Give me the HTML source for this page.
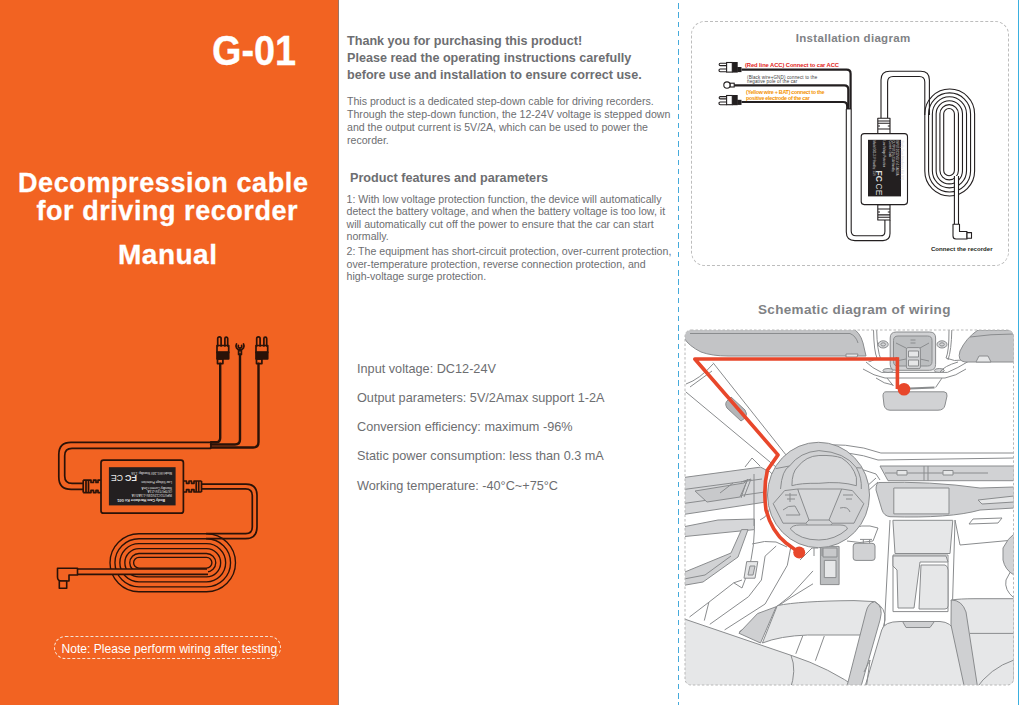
<!DOCTYPE html>
<html><head><meta charset="utf-8">
<style>
html,body{margin:0;padding:0;}
body{width:1019px;height:705px;position:relative;overflow:hidden;background:#fff;font-family:"Liberation Sans",sans-serif;}
.abs{position:absolute;white-space:nowrap;}
#left{position:absolute;left:0;top:0;width:339px;height:705px;background:#F26322;}
#edge{position:absolute;left:338px;top:0;width:1px;height:705px;background:#9a7466;}
.w{color:#fff;font-weight:bold;-webkit-text-stroke:0.3px #fff;}
.g{color:#6d6e71;}
#vline{position:absolute;left:677.5px;top:-5.8px;width:1.7px;height:720px;background:repeating-linear-gradient(to bottom,#45aadb 0,#45aadb 5.5px,transparent 5.5px,transparent 9.2px);}
</style></head>
<body>
<div id="left">
<svg id="cableL" style="position:absolute;left:0;top:0" width="338" height="705" viewBox="0 0 338 705">
<g fill="none" stroke="#2a1208" stroke-width="1.7" stroke-linejoin="round" stroke-linecap="round">
<!-- plugs -->
<path d="M217.7 346 V338.5 a1.7 1.7 0 0 1 3.4 0 V346 M224.9 346 V338.5 a1.4 1.4 0 0 1 2.8 0 V346"/>
<rect x="217" y="345.5" width="11.7" height="7"/>
<rect x="217" y="352" width="11.7" height="6.8" fill="#2a1208"/>
<rect x="217.5" y="358.8" width="5.4" height="4.8"/>
<path d="M256.7 346 V338.5 a1.7 1.7 0 0 1 3.4 0 V346 M263.9 346 V338.5 a1.4 1.4 0 0 1 2.8 0 V346"/>
<rect x="256" y="345.5" width="11.7" height="7"/>
<rect x="256" y="352" width="11.7" height="6.8" fill="#2a1208"/>
<rect x="256.5" y="358.8" width="5.4" height="4.8"/>
<!-- ring -->
<path d="M236.5 344 a4 4 0 1 0 7 0"/>
<path d="M238.4 345.5 a1.8 1.8 0 1 0 3.2 0"/>
<rect x="238.6" y="350.6" width="2.8" height="3.8"/>
</g>
<g fill="none" stroke="#2a1208" stroke-width="2.4" stroke-linecap="round" stroke-linejoin="round">
<path d="M220.2 363.6 V438 q0 4.3 -4.3 4.3 H211"/>
<path d="M240 354.4 V439.5 q0 5 -5 5 H211"/>
<path d="M258.5 363.6 V442 q0 5.5 -5.5 5.5 H211"/>
</g>
<g fill="none" stroke="#2a1208" stroke-width="1.7" stroke-linejoin="round">
<!-- loop cable -->
<path d="M211 442.4 H71 q-12.2 0 -12.2 12.2 V477 q0 12.4 12.4 12.4 H83.2"/>
<path d="M211 448.4 H72 q-7.3 0 -7.3 7.3 V476 q0 7.4 7.4 7.4 H83.2"/>
<path d="M211 442.4 V448.4"/>
<!-- left connector -->
<path d="M83.2 480.2 V492.6 M86 480.2 V492.6 M88.5 480.2 V492.6 M83.2 480.2 H91 V482.5 H93.5 V480.2 H96 V482.5 H98 V480.2 H100.7 M83.2 492.6 H91 V490.3 H93.5 V492.6 H96 V490.3 H98 V492.6 H100.7"/>
<!-- box -->
<rect x="101" y="460.2" width="82.4" height="53" rx="2.5"/>
<!-- right connector -->
<path d="M201.5 481 V492 M198.7 481 V492 M196.2 481 V492 M201.5 481 H194 V483.3 H191.5 V481 H189 V483.3 H186.5 V481 H183.4 M201.5 492 H194 V489.7 H191.5 V492 H189 V489.7 H186.5 V492 H183.4"/>
<!-- right cable to coil -->
<path d="M201.5 484.1 H246 q11 0 11 11 V527 q0 11.7 -11.7 11.7 H206"/>
<path d="M201.5 488.8 H245.5 q6.8 0 6.8 6.8 V527 q0 6.6 -6.6 6.6 H206"/>
</g>
<g fill="none" stroke="#2a1208" stroke-width="1.35">
<rect x="110.00" y="533.75" width="125.50" height="58.00" rx="29.00"/>
<rect x="114.95" y="538.70" width="115.60" height="48.10" rx="24.05"/>
<rect x="119.85" y="543.60" width="105.80" height="38.30" rx="19.15"/>
<rect x="124.85" y="548.60" width="95.80" height="28.30" rx="14.15"/>
<rect x="129.75" y="553.50" width="86.00" height="18.50" rx="9.25"/>
<rect x="133.60" y="557.35" width="78.30" height="10.80" rx="5.40"/>
</g>
<rect x="76" y="569" width="132" height="5.2" fill="#F26322"/>
<g fill="none" stroke="#2a1208" stroke-width="1.6" stroke-linejoin="round">
<path d="M77.5 569 H207 M77.5 574.4 H208"/>
<path d="M77.5 568.2 H57.5 V577 q0 4 4 4 H69 V575 H77.5 Z" fill="#F26322"/>
<rect x="59.3" y="581" width="7.4" height="7.2" fill="#F26322"/>
</g>
<rect x="108.9" y="467.2" width="66.7" height="38.2" fill="#231f20"/>
<g transform="rotate(180 142.5 486.3)" fill="#e8e8e8" font-family="Liberation Sans" >
<text x="120" y="474" font-size="3.6" font-weight="bold">Body Cam Hardwire Kit G01</text>
<text x="113" y="479" font-size="3">INPUT:DC12V/24V=1.5A/3.0A</text>
<text x="113" y="482.6" font-size="3">OUTPUT:5V=2.5A</text>
<text x="113" y="486" font-size="3">Standby Current:&lt;1mA</text>
<text x="113" y="491.3" font-size="3">Low Voltage Protection</text>
<text x="113" y="501" font-size="3">Model:G01-24V   Standby: 1.5S</text>
<text x="148" y="498" font-size="9" font-weight="bold">FC</text>
<text x="162" y="497.5" font-size="8.8" font-weight="normal">CE</text>
</g>

</svg>

  <div class="abs w" style="left:212px;top:26px;font-size:43px;transform:scaleX(0.88);transform-origin:0 0;">G-01</div>
  <div class="abs w" style="left:18px;top:167.5px;font-size:27px;letter-spacing:0.6px;">Decompression cable</div>
  <div class="abs w" style="left:36.5px;top:196px;font-size:27px;letter-spacing:0.55px;">for driving recorder</div>
  <div class="abs w" style="left:118px;top:239px;font-size:28px;letter-spacing:0.5px;">Manual</div>
  <div class="abs" style="left:54px;top:635.7px;width:225px;height:21px;border:1.2px dashed #f8e0d0;border-radius:12px;"></div>
  <div class="abs" style="left:61.5px;top:641.5px;font-size:12.1px;color:#fff;">Note: Please perform wiring after testing</div>
</div>

<div class="abs g" style="left:347px;top:32.8px;font-size:12.6px;font-weight:bold;line-height:16.9px;">Thank you for purchasing this product!<br>Please read the operating instructions carefully<br>before use and installation to ensure correct use.</div>

<div class="abs g" style="left:347px;top:95px;font-size:10.6px;line-height:13px;">This product is a dedicated step-down cable for driving recorders.<br>Through the step-down function, the 12-24V voltage is stepped down<br>and the output current is 5V/2A, which can be used to power the<br>recorder.</div>

<div class="abs g" style="left:350px;top:171px;font-size:12.65px;font-weight:bold;">Product features and parameters</div>

<div class="abs g" style="left:346.5px;top:192.6px;font-size:10.6px;line-height:12.6px;">1: With low voltage protection function, the device will automatically<br>detect the battery voltage, and when the battery voltage is too low, it<br>will automatically cut off the power to ensure that the car can start<br>normally.</div>
<div class="abs g" style="left:346.5px;top:245px;font-size:10.6px;line-height:12.7px;">2: The equipment has short-circuit protection, over-current protection,<br>over-temperature protection, reverse connection protection, and<br>high-voltage surge protection.</div>

<div class="abs g" style="left:357px;top:355px;font-size:12.7px;line-height:29.15px;">Input voltage: DC12-24V<br>Output parameters: 5V/2Amax support 1-2A<br>Conversion efficiency: maximum -96%<br>Static power consumption: less than 0.3 mA<br>Working temperature: -40°C~+75°C</div>

<div id="edge"></div>
<div id="vline"></div>

<svg style="position:absolute;left:0;top:0" width="1019" height="705" viewBox="0 0 1019 705">
<defs><clipPath id="cb"><rect x="685" y="330" width="328.5" height="355" rx="6"/></clipPath></defs>
<g clip-path="url(#cb)" stroke="#8a8c8e" stroke-width="1" stroke-linejoin="round" fill="none">
<!-- left visor -->
<path d="M680 328 H852 Q860 332 863 343 L866 356 H728 Q712 356 701 352 Q689 346 684 338 Z" fill="#c3c4c6"/>
<path d="M690 333.5 H850 Q856 336 858 343"/>
<path d="M846 354 H858 L857 357 H846 Z" fill="#e6e7e8"/>
<!-- A pillar -->
<path d="M713 362.7 L790 460"/>
<path d="M685.7 391.8 L782 472"/>
<path d="M686 384 Q700 379 713 364"/>
<path d="M690 387 L712 371"/>
<path d="M731 397 L745 410 Q748 414 745 418 L741 421 L727 408 Q724 403 728 400 Z" fill="#b3b5b7"/>
<path d="M745 467 L752 458 L760 466"/>
<!-- overhead console frame -->
<path d="M873.5 330 Q874 352 877 358 Q870 362 868.6 361.6"/>
<path d="M876.7 330 Q877 350 881 360"/>
<path d="M949 330 Q949 352 946 358 Q955 362 962 360"/>
<path d="M951.8 330 Q951.5 350 948 360"/>
<path d="M866 362 Q872 368 881.6 372.4 H947.4 Q958 368 968 361.6"/>
<path d="M863 369 Q874 376 885 378 H945 Q956 376 966 369"/>
<path d="M887 378 L893.5 386 M942 378 L935.6 387.5"/>
<path d="M876 378 Q884 384 893 385"/>
<path d="M896.2 332 H929.6 Q935.6 332 935.6 338 V364.3 Q935.6 370.3 929.6 370.3 H896.2 Q890.2 370.3 890.2 364.3 V338 Q890.2 332 896.2 332 Z" fill="#d1d2d4"/>
<path d="M898 336 H927.5 Q932 336 932 340.5 V361.5 Q932 366 927.5 366 H898 Q893.5 366 893.5 361.5 V340.5 Q893.5 336 898 336 Z" fill="#bcbec0"/>
<path d="M896 343 L906 348 M929 343 L920 348 M896 361 L906 359 M929 361 L920 359"/>
<rect x="906.4" y="347.6" width="14" height="21" rx="1.5" fill="#d1d2d4"/>
<rect x="908.5" y="351" width="10" height="6" fill="#e6e7e8"/>
<rect x="908.5" y="360" width="10" height="6" fill="#e6e7e8"/>
<path d="M910.5 340 H915.5 M910.5 343 H915.5"/>
<ellipse cx="883.2" cy="344.4" rx="5" ry="3.6" fill="#d6d7d9"/>
<ellipse cx="883.2" cy="344.4" rx="2.3" ry="1.6"/>
<ellipse cx="942" cy="344.4" rx="5" ry="3.6" fill="#d6d7d9"/>
<ellipse cx="942" cy="344.4" rx="2.3" ry="1.6"/>
<ellipse cx="888" cy="370.5" rx="5" ry="2" fill="#d6d7d9"/>
<ellipse cx="939.3" cy="370.5" rx="5" ry="2" fill="#d6d7d9"/>
<!-- right visor -->
<path d="M978 330 H1014 V362 H965 Q957 361 960 351 Q966 338 978 330 Z" fill="#c3c4c6"/>
<path d="M970 337 Q990 334 1014 334"/>
<path d="M976 362 L979 356 H988 L991 362 Z" fill="#e6e7e8"/>
<path d="M958 362 Q944 366 940 372"/>
<!-- mirror -->
<path d="M909.7 388.6 L934.5 387.5" stroke-width="2"/>
<path d="M886 391.8 H944 Q947.5 392 947 396 L945 405 Q944 410.2 938 410.2 H890 Q885 410 884 405 L883 396 Q883 391.8 886 391.8 Z" fill="#d1d2d4"/>
<!-- door panel -->
<path d="M680 478 L760.6 467.1 L766 470 L766 502 L680 515 Z" fill="#d6d7d9"/>
<path d="M680 490 L762 479"/>
<path d="M680 504 L765 492"/>
<path d="M695 491 L744 483 L748 479 L740 497 L707 502 Z" fill="#c8c9cb"/>
<path d="M720 493 L733 483"/>
<path d="M741 482 L747 480 L741 498 M745 481 L751 479 L744 497"/>
<path d="M680 527.5 L718 520 L754.4 519 V529.6 L680 537 Z" fill="#d6d7d9"/>
<path d="M741.5 529.6 L748 529.6 L738 557 L703 582 L680 586 L680 574 L731 553 Z" fill="#d1d2d4"/>
<path d="M684 579 L705 575 L731 556"/>
<path d="M754 474 V526 M754.4 529.6 Q754 560 742 588 L733.8 582.8"/>
<path d="M766 470 Q775 472 775 485 L770 498 Q772 515 760 520"/>
<!-- floor lines -->
<path d="M689.5 617 L708.9 602.2 L733.8 582.8 L742 580"/>
<path d="M704.3 620.6 L708.9 602.2"/>
<path d="M709.8 624.3 L748.5 596.7 L761.4 580 L765.1 556.1 L776.2 546"/>
<path d="M724.6 629.9 L765.1 604 L787.3 565.3 L791 546"/>
<path d="M739.3 631.7 L790 598 L813 583.8"/>
<path d="M761.4 618.8 L790 596 L813 570.9"/>
<path d="M746.7 561.6 H757.8 L755 578.2 H744 Z" fill="#e6e7e8"/>
<path d="M750 566 H755 L753 575 H748 Z" fill="#d1d2d4"/>
<path d="M752 544 Q765 540 776 542 L787 547"/>
<path d="M800 560 L812 548 L818 548"/>
<!-- pedals / knob -->
<path d="M820.4 546.4 H839.1 V584.6 H820.4 Z" fill="#bcbec0"/>
<rect x="824.3" y="560.4" width="11.7" height="17.2" fill="#e6e7e8"/>
<rect x="823" y="548" width="14" height="9" fill="#c8c9cb"/>
<path d="M856 543.3 H872 Q875 543.3 875 546 V558 Q875 560.4 872 560.4 H856 Q853.2 560.4 853.2 558 V546 Q853.2 543.3 856 543.3 Z" fill="#d1d2d4"/>
<path d="M863.3 539.4 V543.3 M869.6 539.4 V543.3 M860 539.4 H872"/>
<path d="M845 532 Q862 522 878 528 L873 541 Q860 544 847 541"/>
<!-- dashboard -->
<path d="M805 446 Q848 441 880.9 453 H1014"/>
<path d="M812 452 Q850 450 878 460 L1014 458"/>
<path d="M820 465 Q850 464 876 474 L880 480"/>
<path d="M880 466 H1014 V480.7 H888 Z" fill="#d1d2d4"/>
<path d="M885 473 H988 M924 466 V480.7 M928 466 V480.7"/>
<rect x="897" y="470.5" width="10" height="4.5" fill="#e6e7e8"/>
<rect x="943" y="470.5" width="10" height="4.5" fill="#e6e7e8"/>
<path d="M879 482.5 Q930 481 980 488 L1014 487 V508 L980 510 Q950 518.5 890 516.7 Q884 516 882 510 L876 490 Q876 483 879 482.5 Z" fill="#d1d2d4"/>
<rect x="893.8" y="488" width="55.2" height="25.9" fill="#e6e7e8"/>
<path d="M978 500 L1014 496 L1014 502 L982 504 Z" fill="#e6e7e8"/>
<path d="M973 519 L1002 518 L998 523 L969 524 Z" fill="#fff"/>
<path d="M955 520 L960 545 L1014 540"/>
<path d="M865 488 L876 478 M868 491 L878 482"/>
<!-- center console -->
<path d="M892.9 520.3 H952.8 L950 553.5 H895 Z" fill="#e6e7e8"/>
<path d="M890 520 L883.6 640 M955 520 L952 620"/>
<path d="M893 555 H948 V611.6 H893 Z" fill="#fff"/>
<path d="M893 556 H946 L948 562 H920 L914 608 H898 L897 570 L893 566 Z" fill="#e6e7e8"/>
<path d="M921 565 H945 Q948 566 948 570 V606 Q948 609 945 609 H919 Z" fill="#e6e7e8"/>
<!-- steering wheel -->
<ellipse cx="818.5" cy="495" rx="51" ry="52.7" fill="#d1d2d4"/>
<path d="M780.5 489 Q782 470 789.5 466 Q800 452 818.9 450.6 Q845 452 856.4 467.7 Q862 478 861.3 489"/>
<path d="M775.6 468.6 L789.5 466 M861.5 468 L856.4 467.7"/>
<path d="M791.9 485.7 Q792 472 797.6 467 Q806 456 818.9 455.5 Q834 455 841.7 458 Q853 465 856.4 477.5 V485.7 Q840 481 818.9 483.3 Q800 483 791.9 485.7 Z" fill="#d6d7d9"/>
<path d="M797.6 489 H841.7 L833.5 520 H805.8 Z" fill="#d6d7d9"/>
<path d="M773.2 503.7 L784.6 490.6 L797.6 489 L809 520 L805.8 523.2 H783 Z" fill="#d1d2d4"/>
<path d="M863.8 503.7 L852.4 490.6 L841.7 489 L829 520 L832.5 523.2 H854 Z" fill="#d1d2d4"/>
<path d="M805.8 523.2 L809 527 H829 L832.5 523.2"/>
<path d="M790.3 529 Q792 525 800 525 H840 Q847 525 847.4 529 Q835 540 818.9 540 Q800 540 790.3 529 Z" fill="#d6d7d9"/>
<path d="M785 495 H797 M787 499 H795 M790 493 V502 M783 510 Q788 505 795 506 L800 515 H786 M843 495 H853 M846 499 H852 M840 508 Q848 506 850 512"/>
<path d="M814 547.7 V556 M822 547.7 V556"/>
<!-- seats -->
<path d="M680 617.5 L791 655.3 Q830 668 860 690 H680 Z" fill="#e6e7e8"/>
<path d="M791 655.3 Q797 670 790 690"/>
<path d="M762.4 643 L777.3 605.6 Q800 601 854 600.6 L874.8 601.6 L866 635 H807.6 Q780 636 762.4 643 Z" fill="#e6e7e8"/>
<path d="M738.9 633.2 L757.5 613.6 L776.2 606.7 L760.5 643 Z" fill="#cfd0d2"/>
<path d="M802.7 636 L795.8 653.8 M824.3 636 L815.4 660.7"/>
<path d="M874.8 601.6 Q884 606 880 620 L860 690 H846 L866 612 Q868 603 874.8 601.6 Z" fill="#cfd0d2"/>
<path d="M875 602 Q886 608 885 620 L868 690"/>
<path d="M881.7 630 Q884 621.5 900 621.5 H940 Q951.2 622 955 632 L966 690 H864 Z" fill="#e6e7e8"/>
<path d="M902.6 621.5 H934.4 L930 627.5 H906 Z" fill="#cfd0d2"/>
<path d="M864 672 L870 660 L866 690"/>
<path d="M951.2 600 Q960 598.7 975 598.7 H1014 V690 H975 Z" fill="#e6e7e8"/>
<path d="M951.2 600 Q962 600 966 612 L978 690 H965 L951 625 Z" fill="#cfd0d2"/>
<path d="M970 633.4 H1014"/>
<path d="M975 690 Q990 668 1014 660 V690 Z" fill="#e6e7e8"/>
<path d="M1014 598 Q1004 590 1006 580 L1014 565"/>
<path d="M1003 548 Q1008 538 1014 534 V575 Q1005 570 1003 560 Z" fill="#d1d2d4"/>
</g>
<!-- red wire -->
<g fill="none" stroke="#e8472b" stroke-width="3.6" stroke-linejoin="round" stroke-linecap="butt">
<path d="M897.4 359 H694.8 L778 454.9 L767.5 470 Q763 488 766 510 Q772 532 786 543 L799.2 552.6"/>
<path d="M897.4 357.2 V389"/>
</g>
<circle cx="904" cy="389.3" r="6.3" fill="#e8472b"/>
<circle cx="799.2" cy="552.6" r="6" fill="#e8472b"/>
<rect x="685" y="330" width="328.5" height="355" rx="6" fill="none" stroke="#b8b8b8" stroke-width="1" stroke-dasharray="2.5 2"/>
</svg>



<svg style="position:absolute;left:0;top:0" width="1019" height="705" viewBox="0 0 1019 705">
<g fill="none" stroke="#231f20" stroke-width="1.1">
<rect x="924.80" y="89.00" width="49.80" height="107.00" rx="24.90"/>
<rect x="928.58" y="92.90" width="41.98" height="99.06" rx="20.99"/>
<rect x="932.36" y="96.80" width="34.16" height="91.12" rx="17.08"/>
<rect x="936.14" y="100.70" width="26.34" height="83.18" rx="13.17"/>
<rect x="939.92" y="104.60" width="18.52" height="75.24" rx="9.26"/>
<rect x="943.70" y="108.50" width="10.70" height="67.30" rx="5.35"/>
</g>
<g fill="none" stroke="#231f20" stroke-width="1.1" stroke-linejoin="round">
<!-- bundle sheath down to bottom loop -->
<path d="M846.3 108.9 V232 q0 8.6 8.6 8.6 H883 q7 0 7 -7 V220" fill="#fff"/>
<path d="M851.2 108.9 V231 q0 4.8 4.8 4.8 H880.5 q4.4 0 4.4 -4.4 V220"/>
<path d="M846.3 108.9 H851.2"/>
<!-- top cable to coil -->
<path d="M881 118.2 V80 q0 -8.7 8.7 -8.7 H920.7 q8.7 0 8.7 8.7 V115"/>
<path d="M887.6 118.2 V82 q0 -5.5 5.5 -5.5 H919.3 q5.5 0 5.5 5.5 V115"/>
<!-- tail -->
<rect x="954.9" y="176" width="3.1" height="48" fill="#fff" stroke="none"/>
<path d="M954.4 176 V224.3 M958.5 176 V224.3"/>
<path d="M953 224.3 H959.5 V231.5 H967 V239 H956 q-3 0 -3 -3 Z" fill="#fff"/>
<rect x="967" y="232.6" width="4.5" height="5.6" fill="#fff"/>
<!-- connectors -->
<path d="M877.8 118.2 H890 V133.6 H877.8 Z M877.8 121 H890 M877.8 123.3 H890 M877.8 126 H880 M887.8 126 H890 M877.8 129 H890" fill="#fff"/>
<path d="M877.8 204.6 H890 V220 H877.8 Z M877.8 217.2 H890 M877.8 214.9 H890 M877.8 212 H880 M887.8 212 H890 M877.8 209 H890" fill="#fff"/>
<rect x="861.2" y="133.6" width="46.3" height="71" rx="3" fill="#fff"/>
</g>
<rect x="868" y="139.8" width="33" height="56.6" fill="#231f20"/>
<g transform="rotate(90 884.5 168.1)" fill="#ddd" font-family="Liberation Sans">
<text x="857" y="152" font-size="3" font-weight="bold">Body Cam Hardwire Kit G01</text>
<text x="857" y="157" font-size="2.6">INPUT:DC12V/24V=1.5A/3.0A</text>
<text x="857" y="160.5" font-size="2.6">OUTPUT:5V=2.5A Standby</text>
<text x="857" y="164" font-size="2.6">Current:&lt;1mA</text>
<text x="857" y="170" font-size="2.6">Low Voltage Protection</text>
<text x="857" y="180" font-size="2.6">Model:G01-24V  Standby: 1.5S</text>
<text x="887" y="177" font-size="8.5" font-weight="bold">FC</text>
<text x="900" y="177" font-size="8.5">CE</text>
</g>
<!-- wires -->
<g fill="none" stroke="#231f20" stroke-width="2.2" stroke-linejoin="round">
<path d="M741.5 69.7 H846.6 q4 0 4 4 V109"/>
<path d="M734 85.4 H844.3 q4 0 4 4 V109"/>
<path d="M741.5 102 H843.2 q4 0 4 4 V109"/>
</g>
<!-- plugs -->
<g fill="#fff" stroke="#231f20" stroke-width="1.1">
<path d="M726.6 63.3 H720.3 a1.15 1.15 0 0 0 0 2.3 H726.6 M726.6 69 H720.3 a1.35 1.35 0 0 0 0 2.7 H726.6"/>
<rect x="726.6" y="62.5" width="5.7" height="9.6"/>
<path d="M726.6 96.6 H720.3 a1.15 1.15 0 0 0 0 2.3 H726.6 M726.6 102 H720.3 a1.35 1.35 0 0 0 0 2.7 H726.6"/>
<rect x="726.6" y="95.5" width="5.7" height="9.2"/>
<circle cx="727" cy="85.1" r="3.2"/>
<rect x="730.2" y="83.2" width="4" height="3.8"/>
</g>
<g fill="#231f20">
<rect x="732.3" y="62" width="5.4" height="10.6"/>
<rect x="737.2" y="67" width="4.3" height="5.1"/>
<rect x="732.3" y="95" width="5.4" height="10.2"/>
<rect x="737.2" y="99.8" width="4.3" height="5.1"/>
</g>
<rect x="725.3" y="84.3" width="2.4" height="2" fill="#fff"/>
<g font-family="Liberation Sans">
<text x="745" y="66.8" font-size="5.8" font-weight="bold" fill="#e2231a" letter-spacing="-0.08">(Red line ACC) Connect to car ACC</text>
<text x="747" y="79.4" font-size="4.5" fill="#3a3a3a" letter-spacing="0.15">(Black wire+GND) connect to the</text>
<text x="747" y="83.4" font-size="4.5" fill="#3a3a3a" letter-spacing="0.15">negative pole of the car</text>
<text x="746" y="94.4" font-size="5.4" font-weight="bold" fill="#f39200" letter-spacing="-0.28">(Yellow wire + BAT) connect to the</text>
<text x="746" y="99.6" font-size="5.4" font-weight="bold" fill="#f39200" letter-spacing="-0.28">positive electrode of the car</text>
<text x="930.9" y="250.5" font-size="6.1" font-weight="bold" fill="#231f20">Connect the recorder</text>
</g>
</svg>


<!-- installation diagram -->
<div class="abs" style="left:690.5px;top:20.5px;width:316px;height:243px;border:1.2px dashed #bdbdbd;border-radius:14px;"></div>
<div class="abs" style="left:795.8px;top:32.3px;font-size:11.5px;letter-spacing:0.3px;font-weight:bold;color:#808285;">Installation diagram</div>
<div class="abs" style="left:758px;top:302px;font-size:13.5px;letter-spacing:0.33px;font-weight:bold;color:#808285;">Schematic diagram of wiring</div>
<div class="abs" style="left:1018px;top:0;width:1px;height:705px;background:#3ab0e0;"></div>


</body></html>
